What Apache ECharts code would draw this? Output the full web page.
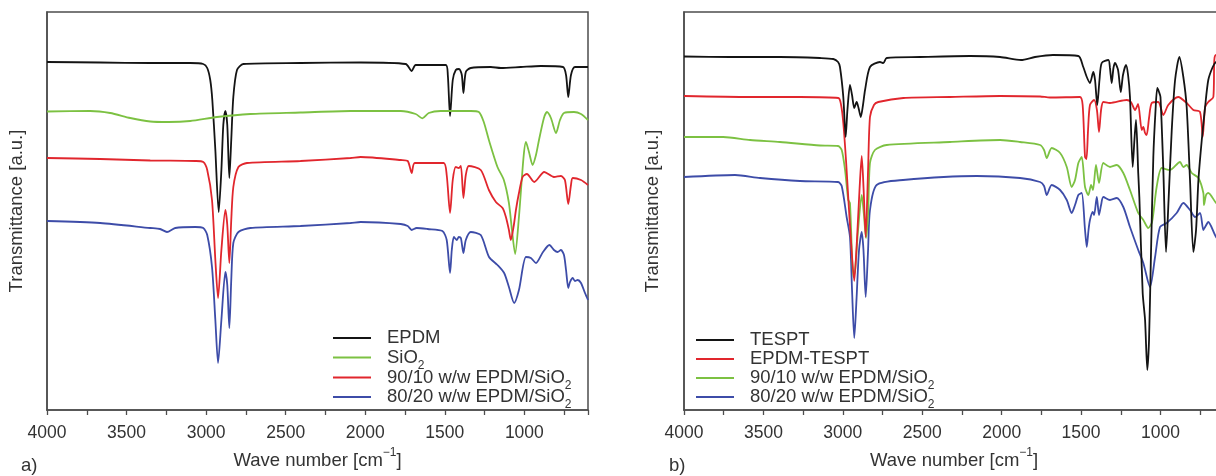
<!DOCTYPE html>
<html>
<head>
<meta charset="utf-8">
<script src="https://cdn.jsdelivr.net/npm/echarts@6/dist/echarts.min.js"></script>
<style>html,body{margin:0;padding:0;background:#fff}#c{width:1216px;height:476px}</style>
</head>
<body>
<div id="c"></div>
<script>
// ---- Panel a) ----
const L_EPDM = [[4000,348],[3666,347.5],[3351,347],[3100,347],[3018,346],[2993,342],[2974,330],[2961,310],[2942,260],[2921,198],[2904,240],[2892,285],[2879,299],[2867,285],[2854,232],[2842,270],[2829,313],[2806,340],[2766,346],[2407,347],[2029,347.5],[1746,346],[1708,339],[1683,345],[1494,345],[1481,335],[1467,294],[1450,330],[1431,340],[1410,341],[1393,335],[1383,317],[1368,338],[1337,342],[1211,343],[1148,342],[1022,343],[896,344],[757,343],[738,335],[724,313],[707,335],[682,343],[600,343]];
const L_SiO2 = [[4000,298.5],[3729,299],[3603,297],[3477,292],[3351,288.5],[3238,288],[3100,289],[2932,293],[2722,296],[2407,297.5],[2092,299],[1777,299],[1683,296],[1641,291.7],[1601,297],[1526,299],[1337,299],[1286,298],[1255,288],[1223,270],[1169,243],[1129,230],[1097,207],[1078,180],[1058,156],[1034,193],[1005,253],[990,268],[971,258],[948,245],[927,255],[908,270],[877,292],[858,298],[833,292],[801,277],[776,290],[751,297],[688,298],[644,296],[600,290]];
const L_9010 = [[4000,252],[3666,251],[3351,249.5],[3068,249],[3018,248],[2993,240],[2963,210],[2942,150],[2925,112],[2904,160],[2879,200],[2867,185],[2854,147],[2842,190],[2829,223],[2797,243],[2743,247],[2407,249],[2092,252],[2029,253],[1777,250],[1733,249],[1708,237],[1689,247],[1507,247],[1488,235],[1467,197],[1450,230],[1431,243],[1412,242],[1399,244],[1383,212],[1368,235],[1349,244],[1274,240],[1223,220],[1179,208],[1137,202],[1116,193],[1097,180],[1085,170],[1066,185],[1053,200],[1034,217],[1011,233],[984,236],[938,228],[875,238],[814,233],[770,234],[745,230],[724,206],[707,225],[696,232],[644,230],[600,225]];
const L_8020 = [[4000,189],[3666,187],[3351,182],[3289,181],[3246,178],[3194,182],[3068,183],[3018,182],[2993,175],[2963,143],[2942,90],[2925,47],[2904,90],[2879,138],[2867,125],[2854,82],[2842,130],[2829,167],[2797,178],[2722,182],[2407,184],[2092,187],[2029,188],[1777,186],[1733,184],[1708,180],[1677,182],[1608,181],[1515,179],[1488,170],[1467,137],[1456,160],[1443,173],[1425,170],[1412,173],[1399,172],[1383,157],[1368,170],[1337,178],[1274,175],[1222,153],[1169,145],[1127,137],[1097,123],[1064,107],[1034,120],[990,153],[959,152],[927,147],[883,158],[843,165],[814,160],[791,158],[770,160],[751,155],[738,140],[724,122],[713,128],[696,132],[682,129],[665,130],[644,127],[619,117],[600,110]];

// ---- Panel b) ----
const R_TESPT = [[4000,353.5],[3710,353],[3396,353],[3144,352],[3060,351],[3030,348],[3018,343],[2997,313],[2982,273],[2971,300],[2955,325],[2942,315],[2928,302],[2913,308],[2901,302],[2887,293],[2873,305],[2860,320],[2829,343],[2766,348],[2745,347],[2724,352],[2514,353],[2199,354],[2010,353],[1878,350],[1790,353],[1677,355],[1517,354],[1486,343],[1464,333],[1444,327],[1423,338],[1412,330],[1398,305],[1384,330],[1370,347],[1328,350],[1318,342],[1307,327],[1296,342],[1286,347],[1267,340],[1250,318],[1236,335],[1217,345],[1204,335],[1192,313],[1175,243],[1164,270],[1154,290],[1140,237],[1133,213],[1112,117],[1097,90],[1083,40],[1072,70],[1061,147],[1045,253],[1031,300],[1020,322],[1009,318],[1000,313],[982,240],[965,158],[949,210],[929,280],[908,330],[881,353],[856,333],[835,303],[814,230],[793,158],[776,180],[761,230],[740,270],[719,303],[699,330],[671,343],[650,348],[600,350]];
const R_EPDMTESPT = [[4000,314],[3584,313],[3270,313],[3028,312],[3011,305],[2997,287],[2980,250],[2966,213],[2949,170],[2928,129],[2911,170],[2895,220],[2881,254],[2869,220],[2856,173],[2841,240],[2829,293],[2804,305],[2777,308],[2619,312],[2325,313],[2010,314],[1758,313.5],[1696,312.5],[1507,313],[1490,305],[1475,253],[1466,251],[1456,280],[1444,305],[1418,310],[1400,300],[1387,278],[1374,300],[1360,308],[1318,307],[1213,310],[1186,308],[1160,300],[1141,306],[1118,280],[1108,283],[1097,277],[1087,275],[1072,292],[1055,307],[1014,308],[982,295],[951,305],[888,313],[835,307],[793,300],[751,298],[734,273],[719,303],[699,308],[667,313],[661,350],[650,355],[600,355]];
const R_9010 = [[4000,273],[3754,273],[3584,270],[3396,268],[3144,264.5],[3030,264],[3007,260],[2986,240],[2966,210],[2955,207],[2934,133],[2923,140],[2904,180],[2881,215],[2867,195],[2854,172],[2841,195],[2829,247],[2798,260],[2724,265],[2325,268],[2010,270],[1884,268],[1758,265],[1733,260],[1716,252],[1685,262],[1632,257],[1590,243],[1559,223],[1538,230],[1517,247],[1496,253],[1475,223],[1454,215],[1437,225],[1425,220],[1406,245],[1387,227],[1360,247],[1318,243],[1276,245],[1234,237],[1192,220],[1140,197],[1108,190],[1077,182],[1053,188],[1024,223],[992,242],[940,240],[877,248],[856,243],[835,245],[803,237],[761,232],[730,217],[726,205],[713,215],[699,217],[650,207],[600,200]];
const R_8020 = [[4000,233],[3679,235],[3521,232],[3270,229],[3030,228],[3007,224],[2976,193],[2955,173],[2942,120],[2928,72],[2914,110],[2898,160],[2881,178],[2870,160],[2856,113],[2841,160],[2829,200],[2787,225],[2621,230],[2157,234],[1884,232],[1758,228],[1733,224],[1716,215],[1685,225],[1632,220],[1590,210],[1559,197],[1538,205],[1517,215],[1496,217],[1475,180],[1464,163],[1453,180],[1444,190],[1427,198],[1418,195],[1401,213],[1387,195],[1374,205],[1360,213],[1318,210],[1276,212],[1234,203],[1192,183],[1140,160],[1108,147],[1066,123],[1034,153],[1003,183],[961,187],[898,197],[856,207],[814,200],[782,193],[751,197],[730,180],[719,183],[699,188],[650,173],[600,165]];

const X_TICKS = [4000, 3500, 3000, 2500, 2000, 1500, 1000];

const FONT = 'Liberation Sans, Arial, Helvetica, sans-serif';
const TXT = '#333';
const AX = '#4d4d4d';
const C_BLACK = '#141414', C_GREEN = '#7cc142', C_RED = '#e1262d', C_BLUE = '#3d4ca8';
const LH = 28;

const richSub = {
  sub: {fontSize: 12, lineHeight: LH, verticalAlign: 'bottom', fontFamily: FONT, color: TXT},
  sup: {fontSize: 12, lineHeight: LH, verticalAlign: 'top', fontFamily: FONT, color: TXT}
};
function fmt(n) { return n.replace(' (b)', '').replace(/SiO2/g, 'SiO{sub|2}'); }

function mainX(gi) {
  return {
    gridIndex: gi, type: 'value', inverse: true, min: 600, max: 4000, splitNumber: 7,
    axisLine: {show: true, lineStyle: {color: AX, width: 1.5}},
    axisTick: {show: false}, splitLine: {show: false},
    axisLabel: {showMinLabel: false, margin: 14, fontSize: 17.5, color: TXT, fontFamily: FONT,
      formatter: v => X_TICKS.indexOf(v) >= 0 ? String(v) : ''},
    name: 'Wave number [cm{sup|−1}]', nameLocation: 'middle', nameGap: 37,
    nameTextStyle: {fontSize: 18.5, color: TXT, fontFamily: FONT, lineHeight: LH, rich: richSub}
  };
}
function tickX(gi) {
  return {
    gridIndex: gi, type: 'value', position: 'bottom', min: 0, max: 3400, interval: 250,
    axisLine: {show: false}, axisLabel: {show: false}, splitLine: {show: false},
    axisTick: {show: true, inside: false, length: 5, lineStyle: {color: AX, width: 1.3}}
  };
}
function yAx(gi, gap) {
  return {
    gridIndex: gi, type: 'value', min: 0, max: 398,
    axisLine: {show: true, lineStyle: {color: AX, width: 1.5}},
    axisTick: {show: false}, axisLabel: {show: false}, splitLine: {show: false},
    name: 'Transmittance [a.u.]', nameLocation: 'middle', nameGap: gap,
    nameTextStyle: {fontSize: 18.5, color: TXT, fontFamily: FONT}
  };
}
function ser(name, data, color, xi, yi) {
  return {name, type: 'line', data, xAxisIndex: xi, yAxisIndex: yi, showSymbol: false,
    smooth: 0.25, lineStyle: {color, width: 1.8}, itemStyle: {color}, animation: false};
}
function leg(name, left, cy) {
  return {data: [name], left, top: cy - LH / 2, orient: 'vertical', padding: 0, itemGap: 0,
    icon: 'rect', itemWidth: 38, itemHeight: 2, selectedMode: false,
    itemStyle: {borderWidth: 0},
    formatter: fmt,
    textStyle: {fontSize: 18.5, color: TXT, fontFamily: FONT, lineHeight: LH, padding: [0, 0, 0, 11], rich: richSub}};
}

const chart = echarts.init(document.getElementById('c'), null, {renderer: 'canvas'});
chart.setOption({
  animation: false,
  backgroundColor: '#fff',
  title: [
    {text: 'a)', left: 16, top: 451, textStyle: {fontSize: 18.5, fontWeight: 'normal', color: TXT, fontFamily: FONT}},
    {text: 'b)', left: 664, top: 451, textStyle: {fontSize: 18.5, fontWeight: 'normal', color: TXT, fontFamily: FONT}}
  ],
  grid: [
    {left: 47, top: 12, width: 541, height: 398, show: true, borderColor: AX, borderWidth: 1.5, backgroundColor: 'transparent', containLabel: false, outerBoundsMode: 'none'},
    {left: 684, top: 12, width: 540, height: 398, show: true, borderColor: AX, borderWidth: 1.5, backgroundColor: 'transparent', containLabel: false, outerBoundsMode: 'none'}
  ],
  xAxis: [mainX(0), tickX(0), mainX(1), tickX(1)],
  yAxis: [yAx(0, 21), yAx(1, 22)],
  legend: [
    leg('EPDM', 333, 338), leg('SiO2', 333, 357.5), leg('90/10 w/w EPDM/SiO2', 333, 377.5), leg('80/20 w/w EPDM/SiO2', 333, 397),
    leg('TESPT', 696, 340), leg('EPDM-TESPT', 696, 359), leg('90/10 w/w EPDM/SiO2 (b)', 696, 378), leg('80/20 w/w EPDM/SiO2 (b)', 696, 397)
  ],
  series: [
    ser('EPDM', L_EPDM, C_BLACK, 0, 0),
    ser('SiO2', L_SiO2, C_GREEN, 0, 0),
    ser('90/10 w/w EPDM/SiO2', L_9010, C_RED, 0, 0),
    ser('80/20 w/w EPDM/SiO2', L_8020, C_BLUE, 0, 0),
    ser('80/20 w/w EPDM/SiO2 (b)', R_8020, C_BLUE, 2, 1),
    ser('90/10 w/w EPDM/SiO2 (b)', R_9010, C_GREEN, 2, 1),
    ser('EPDM-TESPT', R_EPDMTESPT, C_RED, 2, 1),
    ser('TESPT', R_TESPT, C_BLACK, 2, 1)
  ]
});
</script>
</body>
</html>
